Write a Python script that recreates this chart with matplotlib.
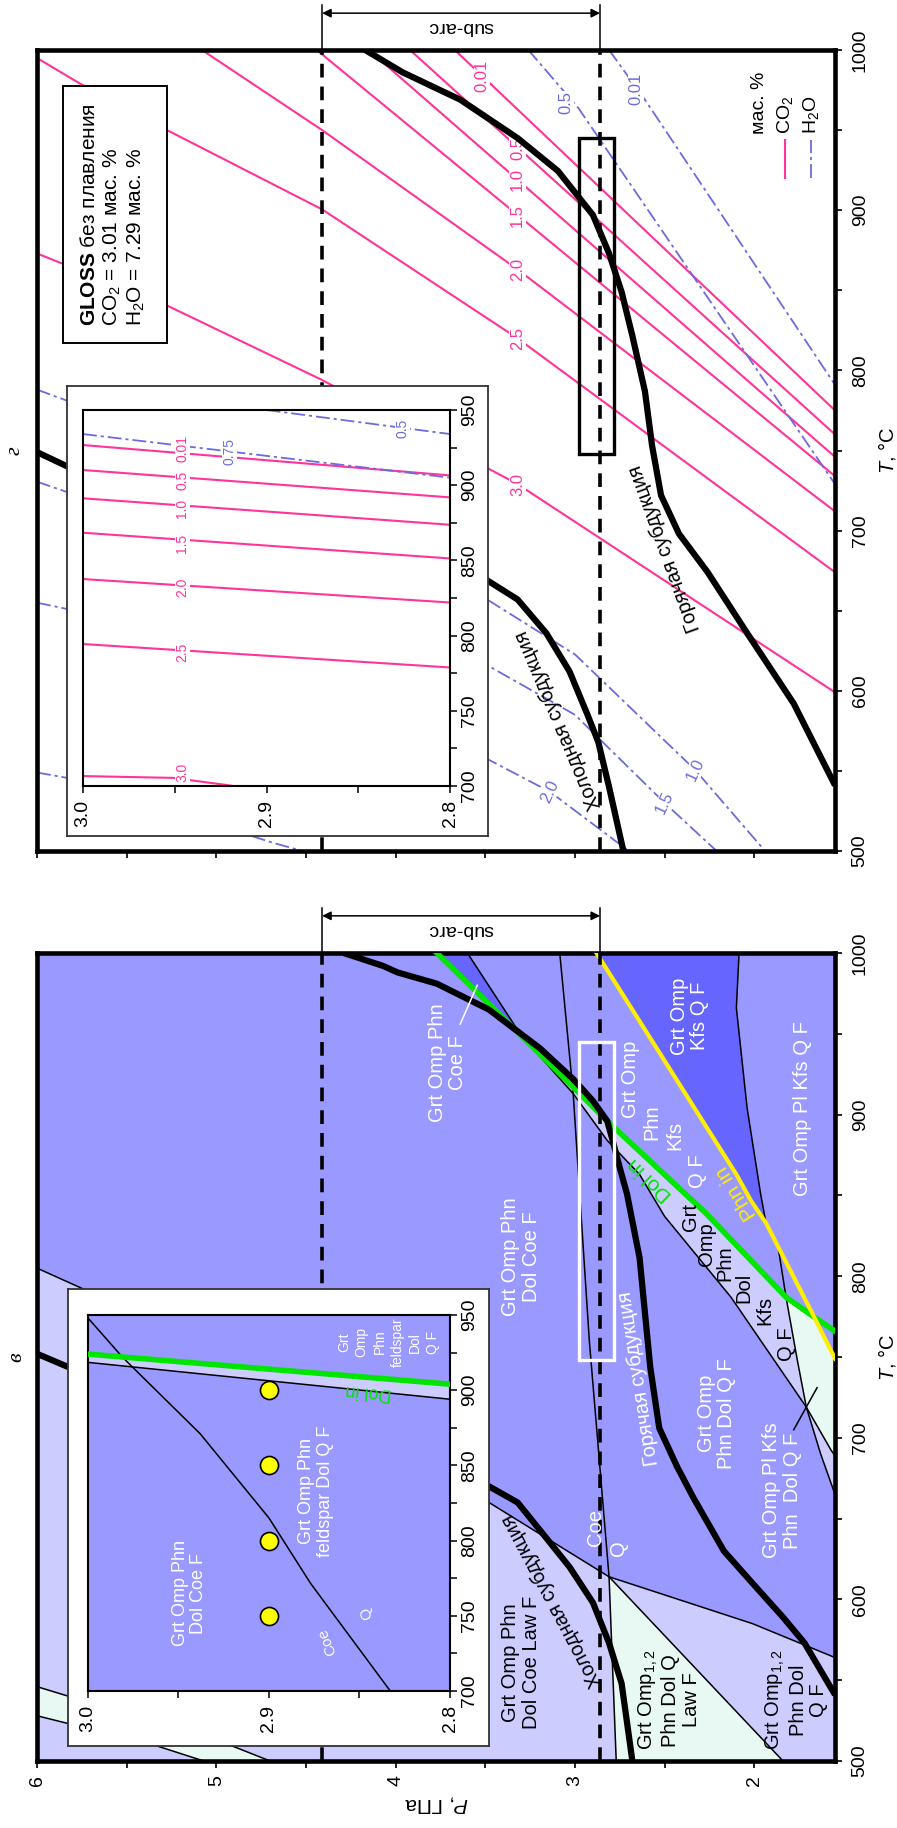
import numpy as np
import matplotlib
matplotlib.use("Agg")
import matplotlib.pyplot as plt
from matplotlib.patches import Polygon, Rectangle
from matplotlib.ticker import MultipleLocator

plt.rcParams["font.family"] = ["Liberation Sans", "DejaVu Sans"]
plt.rcParams["mathtext.fontset"] = "custom"
plt.rcParams["mathtext.rm"] = "Liberation Sans"
plt.rcParams["mathtext.it"] = "Liberation Sans:italic"
plt.rcParams["mathtext.bf"] = "Liberation Sans:bold"

W, H = 897, 1828

MED, LIGHT, DARK, MINT = "#9999ff", "#ccccff", "#6666ff", "#e8f8f3"
GREEN, YELLOW = "#00e600", "#ffee00"
PINK, BLUE = "#ff3399", "#6b6bdf"

# axis ranges and ticks
P_LIM = (6.0, 1.55)
T_LIM = (500, 1000)
P_TICKS = [6, 5, 4, 3, 2]
T_TICKS = [500, 600, 700, 800, 900, 1000]
INS_P_LIM = (3.0, 2.8)
INS_T_LIM = (700, 950)
INS_P_TICKS = [3.0, 2.9, 2.8]
INS_T_TICKS = [700, 750, 800, 850, 900, 950]

SUBARC_P = (4.41, 2.86)
BOX_P = (2.78, 2.98)
BOX_T = (748, 945)

# ---------- panel в (phase diagram), points are (P GPa, T C) ----------
hot_v = [(4.29, 1000), (4.07, 992), (3.99, 988), (3.77, 981), (3.48, 965), (3.195, 941),
         (3.01, 922), (2.90, 908.5), (2.82, 896), (2.79, 884), (2.75, 867), (2.71, 851),
         (2.68, 834), (2.64, 811.5), (2.58, 743.5), (2.53, 706), (2.43, 682), (2.34, 663),
         (2.17, 630), (2.01, 610), (1.84, 589), (1.72, 573), (1.55, 541)]
cold_v = [(6.0, 752), (5.83, 744), (4.6, 712), (3.48, 670), (3.32, 660), (3.16, 638),
          (3.03, 620), (2.90, 598), (2.81, 573), (2.74, 548), (2.68, 500)]
law_v = [(6.0, 805), (5.74, 792), (4.6, 726), (3.48, 660), (2.81, 614), (2.01, 585), (1.55, 564)]
coeq_v = [(3.085, 1000), (3.01, 913), (2.92, 760), (2.81, 614), (2.77, 500)]
omp_v = [(2.81, 614), (1.84, 500)]
stripe_a = [(6.0, 546), (4.905, 509), (4.70, 500)]
stripe_b = [(6.0, 528), (5.35, 510), (5.07, 500)]
green_v = [(3.77, 1000), (3.30, 949), (2.82, 896), (2.27, 839), (1.823, 787), (1.666, 774.7), (1.55, 766)]
dolout_v = [(3.60, 1000), (3.30, 949), (3.01, 913), (2.82, 884), (2.64, 863), (2.50, 837),
            (2.13, 787), (1.71, 719), (1.57, 692), (1.55, 689)]
pl_v = [(2.085, 1000), (2.10, 966), (2.04, 904), (1.965, 851), (1.935, 833), (1.87, 820),
        (1.823, 787), (1.76, 748), (1.71, 719), (1.63, 690), (1.55, 665)]
yellow_v = [(2.88, 1000), (2.10, 863), (2.02, 847), (1.935, 833), (1.666, 774.7), (1.55, 749)]
coe_leader = [(3.64, 956), (3.545, 980)]
qf_leader = [(1.78, 705), (1.65, 731)]

labels_v_white = [("Grt Omp Phn\nCoe F", 3.71, 932), ("Grt Omp Phn\nDol Coe F", 3.30, 812),
                  ("Grt Omp", 2.693, 922), ("Phn", 2.572, 895), ("Kfs", 2.442, 887), ("Q F", 2.316, 865),
                  ("Grt Omp\nKfs Q F", 2.36, 961), ("Grt Omp Pl Kfs Q F", 1.733, 904),
                  ("Grt Omp\nPhn Dol Q F", 2.21, 715), ("Grt Omp Pl Kfs\nPhn  Dol Q F", 1.845, 667.5),
                  ("Coe", 2.888, 644.6), ("Q", 2.76, 631.6)]
labels_v_black = [("Grt", 2.358, 836.8), ("Omp", 2.265, 820), ("Phn", 2.163, 807.8), ("Dol", 2.06, 793),
                  ("Kfs", 1.94, 778.7), ("Q F", 1.82, 758), ("Grt Omp Phn\nDol Coe Law F", 3.30, 561),
                  ("Grt Omp$_{1,2}$\nPhn Dol Q\nLaw F", 2.478, 537.7),
                  ("Grt Omp$_{1,2}$\nPhn Dol\nQ F", 1.767, 537.7)]

# inset of panel в
ins_green = [(3.0, 924), (2.8, 904)]
ins_dolout = [(3.0, 918.5), (2.8, 894)]
ins_coeq = [(3.0, 948), (2.981, 922), (2.938, 871), (2.90, 815), (2.877, 771.5), (2.833, 700)]
ins_pts_P = [2.9, 2.9, 2.9, 2.9]
ins_pts_T = [750, 800, 850, 900]

# ---------- panel г (isopleths) ----------
hot_g = [(4.17, 1000), (3.96, 986), (3.64, 969), (3.32, 945), (3.095, 924.5), (2.90, 897),
         (2.81, 873), (2.74, 849), (2.68, 821.6), (2.61, 787), (2.57, 753), (2.52, 722),
         (2.42, 698), (2.26, 674), (2.04, 636), (1.78, 592), (1.55, 541)]
cold_g = [(6.0, 749), (5.83, 740), (4.6, 710), (3.49, 669), (3.32, 657), (3.16, 636),
          (3.03, 612), (2.93, 585), (2.87, 568), (2.81, 540), (2.73, 500)]

co2_001 = [(3.67, 1000), (1.55, 775)]
co2_05 = [(3.92, 1000), (1.55, 760)]
co2_10 = [(4.15, 1000), (3.32, 919), (1.55, 746)]
co2_15 = [(4.44, 1000), (3.32, 897), (1.55, 734)]
co2_20 = [(5.08, 1000), (4.41, 950), (3.32, 863), (1.55, 712)]
co2_25 = [(6.0, 995), (5.76, 979), (5.275, 950), (4.41, 900.5), (3.32, 820), (1.55, 674)]
co2_30 = [(6.0, 873), (5.275, 840.5), (4.41, 794), (3.32, 729), (1.55, 599)]
co2_lines = [co2_001, co2_05, co2_10, co2_15, co2_20, co2_25, co2_30]
co2_names = ["0.01", "0.5", "1.0", "1.5", "2.0", "2.5", "3.0"]
co2_lab_P = [3.52, 3.32, 3.32, 3.32, 3.32, 3.32, 3.32]
co2_lab_T = [984, 938.5, 919, 897, 863, 820, 729]

h2o_001 = [(2.81, 1000), (2.61, 969), (1.55, 791)]
h2o_05 = [(3.26, 1000), (2.98, 963.6), (1.55, 729)]
h2o_10 = [(6.0, 788), (5.83, 781), (3.49, 657), (3.0, 622.7), (2.33, 550.6), (1.94, 500)]
h2o_15 = [(6.0, 730.5), (5.83, 724), (3.49, 616), (3.0, 585), (2.50, 530), (2.21, 500)]
h2o_20 = [(6.0, 655), (5.83, 651), (3.49, 557.5), (3.14, 537), (2.70, 500)]
h2o_25 = [(6.0, 549), (5.83, 545.6), (4.68, 505), (4.52, 500)]
h2o_lines = [h2o_001, h2o_05, h2o_10, h2o_15, h2o_20, h2o_25]
h2o_names = ["0.01", "0.5", "1.0", "1.5", "2.0"]
h2o_lab_P = [2.66, 3.05, 2.33, 2.50, 3.14]
h2o_lab_T = [976, 967, 550.6, 530, 537]
h2o_lab_rot = [90, 90, 65, 65, 65]

# inset of panel г
ins_co2 = [[(3.0, 926.7), (2.8, 906.5)], [(3.0, 910.1), (2.8, 891.9)], [(3.0, 891.3), (2.8, 873.7)],
           [(3.0, 868.4), (2.8, 851.3)], [(3.0, 837.6), (2.8, 822)], [(3.0, 794.4), (2.8, 778.8)],
           [(3.0, 706.6), (2.951, 705.4), (2.922, 700.7), (2.918, 700)]]
ins_co2_lab_T = [924.6, 902.9, 884.8, 861.2, 832.3, 788.8, 709]
INS_LAB_P = 2.946
ins_h2o_075 = [(3.0, 934), (2.8, 905)]
ins_h2o_05 = [(2.90, 950), (2.8, 934)]


def xy(line):
    a = np.array(line, dtype=float)
    return a[:, 0], a[:, 1]


def box(x0, y0, x1, y1):
    return [x0 / W, 1 - y1 / H, (x1 - x0) / W, (y1 - y0) / H]


def setup_main(ax, xlabels):
    ax.set_xlim(*P_LIM)
    ax.set_ylim(*T_LIM)
    ax.yaxis.tick_right()
    ax.yaxis.set_label_position("right")
    ax.set_xticks(P_TICKS)
    ax.set_xticklabels([str(p) for p in P_TICKS], rotation=90, fontsize=14)
    ax.xaxis.set_minor_locator(MultipleLocator(0.5))
    ax.set_yticks(T_TICKS)
    ax.set_yticklabels([str(t) for t in T_TICKS], rotation=90, va="center", fontsize=14)
    ax.yaxis.set_minor_locator(MultipleLocator(50))
    ax.tick_params(which="both", direction="out", length=5, width=1.2)
    ax.tick_params(axis="x", pad=5, labelbottom=xlabels)
    ax.tick_params(axis="y", pad=7)
    for s in ax.spines.values():
        s.set_linewidth(3.3)
    ax.set_ylabel("$T$, °C", rotation=90, fontsize=14.5, labelpad=5)


def subarc(ax):
    tr = ax.get_xaxis_transform()
    for p in SUBARC_P:
        ax.plot([p, p], T_LIM, color="k", lw=2.6, ls=(0, (3.8, 2.5)), zorder=4)
        ax.plot([p, p], [1.0, 1.056], transform=tr, color="k", lw=1.1, clip_on=False)
    ax.annotate("", xy=(SUBARC_P[1], 1.046), xycoords=tr, xytext=(SUBARC_P[0], 1.046), textcoords=tr,
                arrowprops=dict(arrowstyle="<|-|>", color="k", lw=1.1, mutation_scale=13,
                                shrinkA=0, shrinkB=0))
    ax.text(np.mean(SUBARC_P), 1.029, "sub-arc", transform=tr, rotation=180,
            ha="center", va="center", fontsize=14)


def inset(frame, inner):
    fr = fig.add_axes(box(*frame), zorder=5)
    fr.set_xticks([])
    fr.set_yticks([])
    fr.set_facecolor("white")
    for s in fr.spines.values():
        s.set_linewidth(1.3)
        s.set_edgecolor("#333333")
    ai = fig.add_axes(box(*inner), zorder=6)
    ai.set_xlim(*INS_P_LIM)
    ai.set_ylim(*INS_T_LIM)
    ai.yaxis.tick_right()
    ai.set_xticks(INS_P_TICKS)
    ai.set_xticklabels([f"{p:.1f}" for p in INS_P_TICKS], rotation=90, fontsize=14)
    ai.xaxis.set_minor_locator(MultipleLocator(0.05))
    ai.set_yticks(INS_T_TICKS)
    ai.set_yticklabels([str(t) for t in INS_T_TICKS], rotation=90, va="center", fontsize=14)
    ai.yaxis.set_minor_locator(MultipleLocator(25))
    ai.tick_params(which="both", direction="out", length=5, width=1.1)
    ai.tick_params(axis="x", pad=5)
    ai.tick_params(axis="y", pad=3)
    for s in ai.spines.values():
        s.set_linewidth(1.5)
    return ai


def label(ax, s, p, t, color="white", size=14.5, rot=90, **kw):
    ax.text(p, t, s, color=color, fontsize=size, rotation=rot, ha="center", va="center",
            multialignment="center", linespacing=1.1, zorder=6, **kw)


def poly(ax, pts, color):
    ax.add_patch(Polygon(pts, closed=True, fc=color, ec="none", zorder=1))


fig = plt.figure(figsize=(W / 100, H / 100), dpi=100)

# ================= panel в =================
ax = fig.add_axes(box(37, 953, 835, 1761))
setup_main(ax, True)
ax.set_facecolor(MED)
ax.set_xlabel("$P$, ГПа", rotation=180, fontsize=15, labelpad=6)

poly(ax, law_v + [(P_LIM[1], T_LIM[0]), (P_LIM[0], T_LIM[0])], LIGHT)
poly(ax, omp_v + [coeq_v[-1]], MINT)
poly(ax, stripe_a + stripe_b[::-1], MINT)
poly(ax, green_v[:2] + [dolout_v[0]], DARK)
poly(ax, yellow_v[:4] + pl_v[4::-1], DARK)
poly(ax, dolout_v[1:8] + pl_v[7:5:-1] + green_v[3:0:-1], LIGHT)
poly(ax, pl_v[6:9] + dolout_v[8:] + yellow_v[:3:-1], MINT)
poly(ax, dolout_v[7:] + pl_v[:7:-1], LIGHT)

for ln in [law_v, coeq_v, omp_v, stripe_a, stripe_b, dolout_v, pl_v]:
    ax.plot(*xy(ln), color="k", lw=1.1, zorder=2)
ax.plot(*xy(green_v), color=GREEN, lw=4, zorder=3)
ax.plot(*xy(yellow_v), color=YELLOW, lw=3, zorder=3)
ax.plot(*xy(hot_v), color="k", lw=4.5, zorder=4, solid_capstyle="butt")
ax.plot(*xy(cold_v), color="k", lw=4.5, zorder=4, solid_capstyle="butt")
ax.plot(*xy(coe_leader), color="white", lw=1.1, zorder=5)
ax.plot(*xy(qf_leader), color="k", lw=1.1, zorder=5)
subarc(ax)
ax.add_patch(Rectangle((BOX_P[0], BOX_T[0]), BOX_P[1] - BOX_P[0], BOX_T[1] - BOX_T[0],
                       fill=False, ec="white", lw=2.4, zorder=5))

for s, p, t in labels_v_white:
    label(ax, s, p, t)
for s, p, t in labels_v_black:
    label(ax, s, p, t, color="k")
label(ax, "Dol in", 2.58, 860, color=GREEN, size=15, rot=136)
label(ax, "Phn in", 2.10, 851.7, color=YELLOW, size=15, rot=122)
label(ax, "Горячая субдукция", 2.645, 737, rot=99)
label(ax, "Холодная субдукция", 3.128, 599.5, color="k", rot=118)
ax.text(-0.025, 0.5, "в", transform=ax.transAxes, rotation=90, fontsize=16, style="italic",
        family="Liberation Serif", ha="center", va="center")

ai = inset((68, 1289, 489, 1746), (88, 1315, 450, 1691))
ai.set_facecolor(MED)
ai.add_patch(Polygon(ins_green + ins_dolout[::-1], closed=True, fc=LIGHT, ec="none", zorder=1))
ai.plot(*xy(ins_dolout), color="k", lw=1.1, zorder=2)
ai.plot(*xy(ins_coeq), color="k", lw=1.1, zorder=2)
ai.plot(*xy(ins_green), color=GREEN, lw=4, zorder=3)
ai.plot(ins_pts_P, ins_pts_T, "o", ms=13, mfc="#ffff00", mec="k", mew=1.2, zorder=5)
label(ai, "Grt Omp Phn\nDol Coe F", 2.944, 765, size=13)
label(ai, "Grt Omp Phn\nfeldspar Dol Q F", 2.874, 833, size=13)
ai.text(2.834, 932, "Grt\nOmp\nPhn\nfeldspar\nDol\nQ F", color="white", fontsize=10, rotation=90,
        ha="center", va="center", multialignment="center", linespacing=1.35, zorder=6)
label(ai, "Dol in", 2.845, 899, color=GREEN, size=13, rot=175)
label(ai, "Coe", 2.868, 733, size=11, rot=112)
label(ai, "Q", 2.846, 752, size=11, rot=112)

# ================= panel г =================
ax = fig.add_axes(box(37, 50, 835, 851))
setup_main(ax, False)
ax.set_facecolor("white")

for ln in co2_lines:
    ax.plot(*xy(ln), color=PINK, lw=1.5, zorder=2)
for s, p, t in zip(co2_names, co2_lab_P, co2_lab_T):
    ax.text(p, t, s, color=PINK, fontsize=12, rotation=90, ha="center", va="center", zorder=3,
            bbox=dict(fc="white", ec="none", pad=0.5))
for ln in h2o_lines:
    ax.plot(*xy(ln), color=BLUE, lw=1.3, ls=(0, (7.7, 2.2, 1.7, 2.2)), zorder=2)
for s, p, t, r in zip(h2o_names, h2o_lab_P, h2o_lab_T, h2o_lab_rot):
    ax.text(p, t, s, color=BLUE, fontsize=12, rotation=r, ha="center", va="center", zorder=3,
            bbox=dict(fc="white", ec="none", pad=0.5))
ax.plot(*xy(hot_g), color="k", lw=4.5, zorder=4, solid_capstyle="butt")
ax.plot(*xy(cold_g), color="k", lw=4.5, zorder=4, solid_capstyle="butt")
subarc(ax)
ax.add_patch(Rectangle((BOX_P[0], BOX_T[0]), BOX_P[1] - BOX_P[0], BOX_T[1] - BOX_T[0],
                       fill=False, ec="k", lw=2.4, zorder=5))
label(ax, "Горячая субдукция", 2.50, 689, color="k", rot=110)
label(ax, "Холодная субдукция", 3.09, 581.5, color="k", rot=113)
ax.text(-0.027, 0.5, "г", transform=ax.transAxes, rotation=90, fontsize=16, style="italic",
        family="Liberation Serif", ha="center", va="center")

# composition box
ax.add_patch(Rectangle((0.0326, 0.634), 0.1304, 0.3216, transform=ax.transAxes,
                       fc="white", ec="k", lw=1.4, zorder=6))
ax.text(0.0959, 0.655, "$\\mathbf{GLOSS}$ без плавления\nCO$_2$ = 3.01 мас. %\nH$_2$O = 7.29 мас. %",
        transform=ax.transAxes, rotation=90, ha="center", va="bottom", multialignment="left",
        fontsize=15, linespacing=1.15, zorder=7)

# legend
ax.text(0.905, 0.895, "мас. %", transform=ax.transAxes, rotation=90, ha="center", va="bottom", fontsize=14)
ax.plot([0.937, 0.937], [0.84, 0.888], transform=ax.transAxes, color=PINK, lw=1.5)
ax.text(0.937, 0.895, "CO$_2$", transform=ax.transAxes, rotation=90, ha="center", va="bottom", fontsize=14)
ax.plot([0.97, 0.97], [0.84, 0.888], transform=ax.transAxes, color=BLUE, lw=1.3,
        ls=(0, (7.7, 2.2, 1.7, 2.2)))
ax.text(0.97, 0.895, "H$_2$O", transform=ax.transAxes, rotation=90, ha="center", va="bottom", fontsize=14)

ai = inset((67, 386, 488, 836), (83, 410, 450, 786))
for ln in ins_co2:
    ai.plot(*xy(ln), color=PINK, lw=1.5, zorder=2)
for s, t in zip(co2_names, ins_co2_lab_T):
    ai.text(INS_LAB_P, t, s, color=PINK, fontsize=10, rotation=90, ha="center", va="center", zorder=3,
            bbox=dict(fc="white", ec="none", pad=0.4))
ai.plot(*xy(ins_h2o_075), color=BLUE, lw=1.3, ls=(0, (7.7, 2.2, 1.7, 2.2)), zorder=2)
ai.plot(*xy(ins_h2o_05), color=BLUE, lw=1.3, ls=(0, (7.7, 2.2, 1.7, 2.2)), zorder=2)
ai.text(2.92, 922.4, "0.75", color=BLUE, fontsize=10, rotation=90, ha="center", va="center", zorder=3,
        bbox=dict(fc="white", ec="none", pad=0.4))
ai.text(2.826, 938, "0.5", color=BLUE, fontsize=10, rotation=90, ha="center", va="center", zorder=3,
        bbox=dict(fc="white", ec="none", pad=0.4))

fig.savefig("out.png", dpi=100)
